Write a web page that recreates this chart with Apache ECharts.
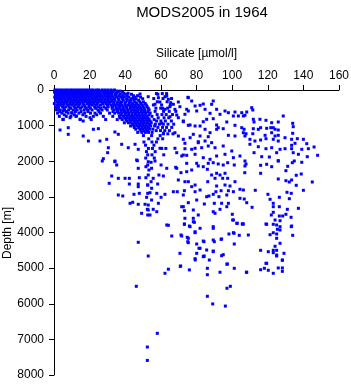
<!DOCTYPE html>
<html><head><meta charset="utf-8">
<script src="https://cdn.jsdelivr.net/npm/echarts@6/dist/echarts.min.js"></script>
<style>html,body{margin:0;padding:0;background:#fff}#c{width:351px;height:384px}</style>
</head><body><div id="c"></div>
<script>
// Axis ticks
const siliTicks = [0,20,40,60,80,100,120,140,160];
const depthTicks = [0,1000,2000,3000,4000,5000,6000,7000,8000];

// Dense near-surface band: depth level -> silicate values observed there
const bandDepth = [0,60,120,200,290,380,470,560,650,740,830,920,1010,1100,1190];
const bandSilicate = [
 [0.5,1.8,3.2,4.6,6.1,7.5,9.0,10.4,11.9,13.3,14.8,16.2,17.7,19.1,20.6,22.0,23.8,25.1,27.0,28.6,30.3,32.1,34.0],
 [0.3,2.1,3.9,5.4,7.0,8.6,10.1,11.8,13.5,15.0,16.7,18.4,20.1,21.7,23.4,25.5,27.8,29.4,31.6,33.2,36.0,38.4],
 [0.8,2.5,4.2,5.9,7.7,9.4,11.0,12.6,14.3,16.0,17.8,19.5,21.2,22.9,24.6,26.3,28.2,30.0,31.9,34.5,37.2,40.3,43.5],
 [0.4,2.0,3.6,5.3,7.1,8.8,10.5,12.2,13.8,15.5,17.3,19.0,20.8,22.6,24.0,25.8,27.5,29.6,31.3,33.0,35.1,37.8,39.5,42.0,45.2,48.6],
 [1.0,2.8,4.5,6.3,8.0,9.8,11.5,13.1,14.9,16.6,18.2,20.0,21.9,23.5,25.2,26.9,28.8,30.5,32.4,34.2,36.5,38.9,41.2,43.0,44.8,47.5],
 [0.2,2.3,4.0,5.7,7.4,9.2,10.9,12.8,14.5,16.3,18.8,20.4,22.3,24.3,27.3,29.1,31.0,33.5,35.4,37.3,39.8,42.2,44.1,46.3,48.7,51.2],
 [0.9,2.6,4.8,6.6,8.5,11.3,13.6,15.7,17.5,19.6,22.8,25.0,28.0,30.4,32.8,34.8,36.9,38.7,40.6,42.8,44.5,46.2,48.0,50.1,52.3],
 [1.6,3.5,6.0,8.2,10.7,13.0,16.9,19.0,21.4,24.7,27.0,29.9,33.8,35.9,37.9,39.4,41.5,43.7,45.5,47.3,49.2,51.0,53.4],
 [2.0,4.4,7.9,10.1,14.0,17.2,20.5,23.0,26.1,31.2,34.1,36.3,38.2,40.2,42.0,43.9,45.8,47.8,49.6,51.5,54.0],
 [3.0,6.9,9.5,12.3,18.0,22.1,27.7,33.0,36.7,39.0,41.0,42.9,44.6,46.6,48.3,50.3,52.1,55.0],
 [5.0,14.8,20.9,29.0,35.5,38.3,40.4,42.5,44.3,46.0,47.9,49.7,51.6,53.4,56.2],
 [39.5,41.8,43.4,45.4,47.1,49.0,50.7,52.6,54.6],
 [43.0,44.9,46.8,48.5,50.4,52.2,54.3,56.5],
 [45.9,48.2,50.0,51.8,53.6,55.5],
 [47.0,49.3,51.3,53.1,55.1]
];
// Further samples filling the dense band between the levels above
const fillDepth = [30,90,160,245,335,425,515,605,695,785,875,965,1055,1145];
const fillSilicate = [
 [1.2,2.9,4.0,5.5,6.8,8.3,9.7,11.2,12.7,14.0,15.5,17.0,18.6,19.9,21.3,22.8,24.5,26.2,27.9,29.5,31.2,33.0,35.3,37.1],
 [1.3,3.0,4.7,6.3,7.9,9.5,11.0,12.6,14.2,15.9,17.5,19.2,20.9,22.6,24.2,26.0,28.6,30.6,32.4,35.0,39.2,41.6],
 [1.5,3.1,4.9,6.6,8.1,9.9,11.6,13.1,15.0,16.5,18.3,20.0,21.8,23.3,25.0,26.9,28.8,30.7,32.7,34.6,36.4,38.7,41.1,44.6,46.9],
 [0.9,2.6,4.1,5.8,7.6,9.2,11.1,12.9,14.6,16.3,18.0,19.8,21.5,23.2,24.9,26.5,28.4,30.2,32.0,34.0,36.2,38.5,40.8,43.3,46.1,49.8],
 [1.9,3.6,5.2,7.0,8.9,10.6,12.3,14.0,15.8,17.6,19.4,21.1,22.9,24.8,26.3,28.1,29.9,31.7,33.6,35.8,37.9,40.3,42.6,45.6,48.2,50.2],
 [1.7,3.4,5.1,7.9,10.0,12.0,14.0,17.0,19.7,21.4,23.6,26.1,30.0,32.2,34.1,36.1,38.0,40.0,41.8,43.6,45.4,47.3,49.6,51.8],
 [2.4,5.5,9.3,12.1,14.9,18.1,20.4,23.4,26.2,29.1,32.6,35.0,36.9,38.9,40.9,42.9,44.9,46.8,48.6,50.6,52.9],
 [3.2,7.0,12.0,15.2,19.1,25.3,33.1,35.6,37.6,39.6,41.4,43.2,45.1,46.9,48.9,50.8,52.7],
 [5.8,11.4,16.2,24.0,37.6,39.9,41.9,43.8,45.7,47.5,49.4,51.2,53.3],
 [37.3,39.8,41.7,43.7,45.3,47.2,49.1,50.9,52.8],
 [41.0,43.0,45.0,46.7,48.6,50.3,52.2,54.0],
 [44.2,46.1,48.0,49.8,51.7,53.6],
 [45.1,47.5,49.5,51.3,53.0],
 [48.8,50.7,52.5]
];

// Column of points near 50-68 umol/l
const columnDepth = [100,240,330,420,510,600,690,780,870,960,1050,1140,1230,1280,1370,1460,1550,1640,1730,1820,1910];
const columnSilicate = [
 [57.5,60.8,63.2],[56.0,61.2,66.0],[58.0,63.5],[55.8,60.4,65.3],[57.2,59.9,63.8],
 [56.8,61.5,64.7,68.4],[57.9,60.6,63.0,66.5],[58.5,61.8,64.4],[57.6,60.0,62.5,65.9],
 [56.9,59.2,61.4,64.0,67.2],[58.3,60.9,63.2,66.1],[57.4,59.8,62.2,64.8],[61.5,63.9,66.8],
 [50.2,54.8,59.6],[53.2,58.3,61.0],[50.5,55.0,57.5],
 [51.4,56.1],[53.0,55.3,60.5,62.8],[51.9,56.8],
 [52.6,55.0,61.6],[51.5,56.3]
];

// Scattered samples [silicate, depth]
const upperPoints = [
 [3.4,1123],[8.0,1058],[8.0,1244],[5.2,822],[9.0,778],[16.4,1291],[19.3,1432],[22.1,1103],[25.8,1432],[24.9,1086],
 [29.6,1384],[30.5,1620],[30.1,1760],[34.2,1179],[36.1,1244],[27.7,1928],[34.2,1993],[38.0,1524],[41.7,1620],[45.5,1524],
 [46.4,1965],[47.3,1665],[16.4,870],[12.7,730],[1.5,542],[5.2,589],[9.9,637],[14.6,822],[20.2,778],
 [52.9,188],[58.6,216],[62.3,188],[64.2,261],[59.5,337],[56.7,401],[62.3,542],[65.1,469],[67.0,401],[69.8,337],
 [67.9,542],[75.4,216],[77.3,309],[79.2,449],[82.0,429],[80.1,589],[75.4,589],[73.5,682],[84.8,542],[88.5,401],
 [89.4,309],[91.3,542],[96.0,589],[93.2,682],[97.9,637],[101.6,618],[100.7,730],[103.5,730],[97.0,898],[101.6,991],
 [106.3,730],[69.8,778],[72.6,870],[75.4,991],[79.2,1011],[82.0,1011],[85.7,822],[89.4,806],[92.2,1058],[95.0,1086],
 [84.8,1103],[87.6,1199],[78.2,1244],[82.0,1291],[76.4,1339],[69.8,1291],[72.6,1384],[81.0,1479],[84.8,1432],[88.5,1479],
 [97.9,1272],[101.6,1291],[106.3,1199],[91.3,1103],[73.5,1648],[77.3,1665],[82.9,1620],[86.6,1572],[90.4,1620],[95.0,1572],
 [99.8,1712],[68.9,1760],[71.7,1853],[74.5,1833],[79.2,1805],[83.8,1900],[87.6,1945],[91.3,1853],[96.0,1805],[100.7,1900],
 [104.4,1853],[107.2,1993],
 [111.0,497],[111.6,561],[108.2,618],[105.4,637],[107.2,710],[111.9,822],[112.3,898],[115.6,822],[119.0,851],[122.2,918],
 [125.9,898],[128.7,730],[105.4,1058],[106.7,1103],[111.9,1086],[114.7,1103],[116.0,1058],[119.4,1075],[121.7,1058],[123.1,1058],
 [124.1,1103],[125.9,1123],[107.8,1227],[107.2,1291],[111.6,1227],[118.5,1272],[122.2,1199],[124.1,1291],[125.9,1272],[129.7,1339],
 [134.0,935],[134.3,1030],[134.0,1215],[133.4,1384],[136.6,1367],[140.0,1384],[110.0,1384],[112.8,1432],[116.0,1404],[119.0,1367],
 [123.1,1384],[125.9,1432],[133.4,1552],[135.3,1496],[141.9,1507],[110.0,1524],[114.7,1592],[119.0,1648],[122.2,1620],[126.9,1665],
 [129.7,1648],[133.4,1648],[134.3,1760],[137.2,1805],[139.1,1665],[142.8,1648],[146.0,1600],[148.0,1833],[142.2,1872],[112.3,1760],
 [116.6,1872],[120.9,1881],[125.0,1760],[125.9,1993],
 [61.0,514],[65.5,356],[70.7,469],[74.5,542],[83.8,393],[87.6,654],[60.5,935],[65.1,749],[68.9,702],[72.6,890],
 [76.4,982],[83.8,890],[91.3,982],[61.4,1215],[67.9,1199],[73.5,1496],[81.0,1451],[86.6,1311],[59.5,1636],[67.9,1636],
 [72.6,1825],[79.2,1636],[75.2,205],[44.5,216],[48.3,112],[63.3,168],[58.3,120]
];
const midPoints = [
 [27.1,1993],[34.2,2013],[35.2,2105],[47.3,2198],[51.6,2153],[52.9,2013],[46.8,1985],[32.4,2414],[36.1,2479],[39.9,2479],
 [42.3,2479],[47.9,2462],[51.6,2462],[31.0,2619],[42.3,2639],[47.3,2639],[47.3,2714],[52.6,2667],[52.6,2900],[36.1,2947],
 [38.6,2975],[44.9,2928],[47.9,2900],[42.7,3180],[44.2,3152],[47.3,3208],[51.1,3208],[52.4,3349],[49.2,3461],[52.6,3509],
 [54.5,2030],[52.6,2105],[56.7,1993],[60.1,2105],[53.3,2246],[54.8,2198],[58.9,2386],[61.4,2414],[52.9,2386],[55.7,2479],
 [54.5,2574],[58.2,2639],[52.6,2667],[54.8,2759],[53.9,2883],[57.7,2900],[62.3,2928],[52.0,3012],[60.1,3012],[54.8,3088],
 [58.6,3180],[52.9,3228],[55.7,3349],[52.9,3368],[57.7,3416],[53.9,3509],
 [68.3,2170],[71.3,2321],[74.5,2058],[77.3,2246],[73.5,2574],[75.4,2574],[79.2,2667],[79.2,2855],[69.2,2855],[73.2,2827],
 [82.0,2807],[80.1,3088],[75.4,3163],[71.7,3276],[73.2,3388],[78.2,3601],[73.5,3601],[78.8,3714],[76.4,3837],[73.2,3770],
 [64.2,3798],[79.2,3978],[63.3,2198],[68.9,2198],[74.5,2293],[80.1,2058],[69.8,2526],[77.3,2714],[67.0,2855],[72.6,2947],
 [72.6,3276],[78.2,3368],[81.0,3509],[85.7,2995],[63.3,3789],[89.4,3837],
 [81.0,2133],[83.8,2153],[86.6,2058],[89.4,2041],[92.2,2077],[95.0,2105],[97.5,2041],[101.2,2105],[86.1,2226],[88.5,2386],
 [91.3,2338],[93.2,2386],[96.0,2338],[90.4,2479],[94.7,2479],[97.5,2479],[86.3,2574],[91.3,2695],[96.0,2667],[98.8,2695],
 [101.6,2574],[90.9,2855],[93.8,2827],[97.9,2827],[100.7,2855],[104.4,2787],[87.0,2975],[89.4,2928],[92.6,2995],[97.0,2947],
 [104.4,3040],[84.4,3200],[90.0,3180],[94.1,3180],[97.9,3180],[93.2,3349],[97.0,3276],[89.4,3416],[90.4,3461],[100.1,3489],
 [100.7,3649],[105.7,3761],[89.4,3882],[100.7,4006],[102.6,3742],[106.3,3761],[73.2,3761],[76.0,3818],[78.2,3697],[82.0,3882],
 [100.3,3649],[102.9,3742],[119.0,3761],[133.4,3818],[79.2,4006],
 [107.8,2077],[107.2,2133],[116.0,2114],[119.4,2086],[122.2,2153],[125.9,1985],[133.8,2041],[134.9,1993],[139.1,2029],[131.2,2142],
 [130.2,2265],[116.0,2338],[107.1,2321],[125.9,2498],[130.2,2546],[132.1,2582],[133.4,2526],[136.0,2394],[138.8,2358],[145.0,2582],
 [136.0,2675],[140.0,2815],[113.0,2815],[106.3,2807],[120.1,2928],[130.8,2872],[133.2,2900],[121.3,3068],[126.5,3012],[132.1,3051],
 [106.8,3060],[108.2,3163],[123.1,3180],[123.1,3276],[126.5,3276],[111.2,3293],[131.0,3349],[137.2,3321],[123.1,3433],[126.5,3537],
 [128.4,3537],[130.2,3489],[122.0,3509],[124.1,3649],[126.9,3669],[123.1,3770],[125.0,3789],[126.9,3837],[119.4,3770],[133.1,3573],
 [133.2,3837],[105.9,3761],[125.4,3910],[126.9,3930]
];
const deepPoints = [
 [109.1,4070],[123.1,4006],[125.0,4042],[134.0,4079],[121.3,4062],[125.0,4163],[126.9,4303],[124.1,4387],[116.0,4500],[120.3,4539],
 [123.1,4500],[123.1,4567],[125.0,4500],[129.1,4584],[125.0,4632],[128.2,4772],[119.4,4865],[108.2,5117],
 [71.3,4070],[74.8,4135],[75.1,4258],[83.8,4239],[80.1,4323],[70.7,4584],[81.4,4443],[83.8,4679],[89.4,4539],[79.2,4735],
 [94.1,4182],[98.2,4042],[101.2,4323],[90.0,4258],[85.7,4491],[89.4,4519],[94.1,4651],
 [66.1,4098],[71.7,4098],[75.4,4163],[75.4,4286],[84.2,4258],[89.4,4211],[93.8,4191],[101.1,4022],[104.0,4079],
 [80.1,4584],[82.0,4443],[84.2,4660],[95.0,4623],[87.2,4772],[97.3,4884],[71.1,4940],
 [47.3,4275],[52.9,4660],[64.2,5030],[70.9,4950],[62.3,5145],[76.0,5050],[79.3,4770],[84.2,4670],[86.1,5005],[86.1,5185],
 [93.2,5115],[97.1,4890],[101.2,5005],[108.0,5115],[116.0,5045],[118.1,5005],[120.3,5060],[123.1,5145],[119.0,4865],[125.9,4995],
 [128.2,4995],[128.2,5090],[128.2,4780],[125.0,4660],[46.2,5510],[86.1,5790],[97.1,5565],[99.0,5510],[89.1,6005],[96.2,6065],
 [58.0,6830],[52.4,7215],[52.4,7590]
];

const data = [];
bandDepth.forEach((d,i)=>bandSilicate[i].forEach(s=>data.push([s,d])));
fillDepth.forEach((d,i)=>fillSilicate[i].forEach(s=>data.push([s,d])));
columnDepth.forEach((d,i)=>columnSilicate[i].forEach(s=>data.push([s,d])));
upperPoints.concat(midPoints, deepPoints).forEach(p=>data.push(p));

const font = 'Liberation Sans, Arial, Helvetica, sans-serif';
const chart = echarts.init(document.getElementById('c'), null, {renderer:'canvas'});
chart.setOption({
  animation:false,
  backgroundColor:'#fff',
  title:{text:'MODS2005 in 1964', left:197, textAlign:'center', top:0,
    textStyle:{fontFamily:font, fontSize:15, fontWeight:'normal', color:'#000'}},
  grid:{left:54, right:12, top:90, bottom:9, containLabel:false, outerBoundsMode:'none'},
  graphic:[{type:'text', x:8, y:233, rotation:Math.PI/2,
    style:{text:'Depth [m]', font:'12px ' + font, fill:'#000', textAlign:'center', textVerticalAlign:'middle'}}],
  xAxis:{type:'value', position:'top', min:0, max:160, interval:20,
    name:'Silicate [\u00b5mol/l]', nameLocation:'middle', nameGap:30,
    nameTextStyle:{fontFamily:font, fontSize:12, color:'#000'},
    axisLine:{show:true, onZero:false, lineStyle:{color:'#000', width:1}},
    axisTick:{show:true, inside:false, length:5, lineStyle:{color:'#000'}},
    axisLabel:{fontFamily:font, fontSize:12, color:'#000', margin:8,
      formatter:v=>siliTicks.includes(v)?String(v):''},
    splitLine:{show:false}},
  yAxis:{type:'value', inverse:true, min:0, max:8000, interval:1000,
    axisLine:{show:true, onZero:false, lineStyle:{color:'#000', width:1}},
    axisTick:{show:true, inside:false, length:5, lineStyle:{color:'#000'}},
    axisLabel:{fontFamily:font, fontSize:12, color:'#000', margin:10,
      formatter:v=>depthTicks.includes(v)?String(v):''},
    splitLine:{show:false}},
  series:[{type:'scatter', data:data, symbol:'rect', symbolSize:3,
    itemStyle:{color:'#0000ff', opacity:1}, silent:true, large:false}]
});
</script></body></html>
